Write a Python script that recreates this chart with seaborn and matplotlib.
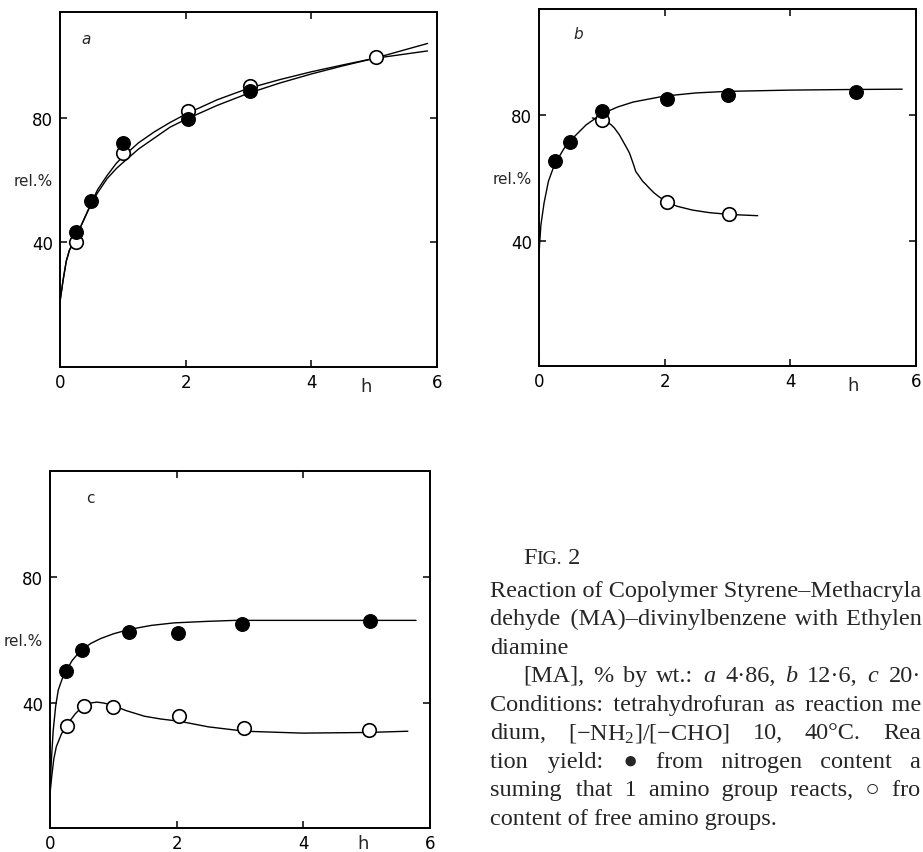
import matplotlib
matplotlib.use("Agg")
import matplotlib.pyplot as plt
import seaborn as sns

sns.set_theme(style="white")
plt.rcParams["font.family"] = ["DejaVu Sans"]
plt.rcParams["mathtext.fontset"] = "custom"
plt.rcParams["mathtext.rm"] = "Liberation Serif"
plt.rcParams["mathtext.it"] = "Liberation Serif:italic"

# ---------------- data ----------------
# panel a
a_full_x = [0.25, 0.5, 1.0, 2.03, 3.03]
a_full_y = [43.2, 53.4, 71.9, 79.6, 88.7]
a_open_x = [0.25, 1.0, 2.03, 3.03, 5.03]
a_open_y = [40.0, 68.7, 82.2, 90.2, 99.6]
a_curve1_x = [0, 0.05, 0.1, 0.15, 0.25, 0.35, 0.5, 0.6, 0.75, 0.9, 1.0, 1.25, 1.5, 1.75, 2.0, 2.5, 3.0, 3.5, 4.0, 4.5, 5.0, 5.85]
a_curve1_y = [21, 28, 34, 37.5, 41.5, 46, 52.5, 56, 60.5, 63.8, 65.6, 70.0, 73.5, 77.0, 79.5, 84.0, 87.9, 91.2, 94.1, 96.7, 99.1, 103.9]
a_curve2_x = [0, 0.05, 0.1, 0.15, 0.25, 0.35, 0.5, 0.6, 0.75, 0.9, 1.0, 1.25, 1.5, 1.75, 2.0, 2.5, 3.0, 3.5, 4.0, 4.5, 5.0, 5.85]
a_curve2_y = [21, 28, 34, 37.5, 41.5, 46, 52.8, 57, 61.5, 65.5, 67.5, 72.0, 75.5, 78.5, 81.2, 85.8, 89.5, 92.3, 94.8, 97.0, 99.1, 101.5]

# panel b
b_full_x = [0.25, 0.5, 1.0, 2.03, 3.0, 5.05]
b_full_y = [65.5, 71.5, 81.5, 85.2, 86.6, 87.5]
b_open_x = [1.0, 2.03, 3.02]
b_open_y = [78.4, 52.3, 48.4]
b_curve1_x = [0, 0.03, 0.08, 0.15, 0.25, 0.4, 0.5, 0.75, 1.0, 1.25, 1.5, 2.0, 2.5, 3.0, 4.0, 5.0, 5.78]
b_curve1_y = [36, 45, 52, 59, 64.5, 69.5, 72.0, 77.0, 80.5, 82.7, 84.3, 86.2, 87.2, 87.7, 88.1, 88.3, 88.4]
b_curve2_x = [0.85, 0.93, 1.0, 1.08, 1.15, 1.2, 1.28, 1.33, 1.4, 1.44, 1.47, 1.5, 1.54, 1.58, 1.65, 1.7, 1.76, 1.83, 1.9, 2.03, 2.2, 2.44, 2.7, 3.02, 3.48]
b_curve2_y = [79.2, 78.9, 78.5, 78.0, 77.0, 76.0, 73.8, 72.0, 69.5, 68.0, 66.3, 64.6, 62.1, 61.0, 59.0, 58.0, 56.7, 55.3, 54.2, 52.3, 51.0, 49.8, 49.0, 48.4, 48.0]

# panel c
c_full_x = [0.25, 0.5, 1.25, 2.02, 3.03, 5.05]
c_full_y = [50.2, 56.7, 62.6, 62.4, 65.1, 66.1]
c_open_x = [0.27, 0.53, 1.0, 2.04, 3.06, 5.04]
c_open_y = [32.7, 39.1, 38.7, 35.7, 31.9, 31.4]
c_curve1_x = [0, 0.02, 0.05, 0.09, 0.13, 0.19, 0.25, 0.35, 0.5, 0.65, 0.8, 1.0, 1.25, 1.6, 1.96, 2.5, 2.92, 4.0, 5.0, 5.78]
c_curve1_y = [12, 21, 31, 39, 44, 47.5, 50, 53.5, 57, 59, 60.5, 62.0, 63.4, 64.7, 65.5, 66.0, 66.3, 66.3, 66.3, 66.3]
c_curve2_x = [0, 0.03, 0.06, 0.1, 0.18, 0.27, 0.4, 0.53, 0.64, 0.74, 0.85, 1.0, 1.2, 1.49, 1.75, 2.04, 2.5, 3.08, 3.98, 5.0, 5.65]
c_curve2_y = [11, 17, 22, 26, 30, 33, 36.5, 39.1, 39.9, 40.2, 39.9, 39.1, 37.5, 35.7, 34.8, 34.1, 32.3, 30.9, 30.3, 30.5, 30.9]

x_ticks = [0, 2, 4, 6]
x_ticklabels = ["0", "2", "4", "6"]
y_ticks = [40, 80]
y_ticklabels = ["40", "80"]
panel_letters = ["a", "b", "c"]
y_label = "rel.%"
x_label = "h"

caption_title = ("F", "IG.", " 2")
caption_lines = [
    "Reaction of Copolymer Styrene–Methacryla",
    "dehyde (MA)–divinylbenzene with Ethylen",
    "diamine",
    r"[MA], % by wt.: $a$ 4·86, $b$ 12·6, $c$ 20·",
    "Conditions: tetrahydrofuran as reaction me",
    r"dium, [$-$NH$_2$]/[$-$CHO] 10, 40°C. Rea",
    "tion yield: ● from nitrogen content a",
    "suming that 1 amino group reacts, ○ fro",
    "content of free amino groups.",
]
caption_justify = [True, True, False, True, True, True, True, True, False]

# ---------------- figure ----------------
W, H = 923, 853
fig = plt.figure(figsize=(W / 100, H / 100), dpi=100)

def px_rect(left, top, right, bottom):
    return [left / W, 1 - bottom / H, (right - left) / W, (bottom - top) / H]

axa = fig.add_axes(px_rect(60, 13, 437, 368))
axb = fig.add_axes(px_rect(539, 10, 916, 367))
axc = fig.add_axes(px_rect(50, 472, 430, 829))

panels = [
    (axa, a_full_x, a_full_y, a_open_x, a_open_y,
     [(a_curve1_x, a_curve1_y), (a_curve2_x, a_curve2_y)], 4.87, -14, (0.41, 105.5), True),
    (axb, b_full_x, b_full_y, b_open_x, b_open_y,
     [(b_curve1_x, b_curve1_y), (b_curve2_x, b_curve2_y)], 5.0, -14, (0.62, 106.3), True),
    (axc, c_full_x, c_full_y, c_open_x, c_open_y,
     [(c_curve1_x, c_curve1_y), (c_curve2_x, c_curve2_y)], 4.94, -11, (0.64, 105.6), False),
]

for (ax, fx, fy, ox, oy, curves, hx, hdy, letter_pos, italic), letter in zip(panels, panel_letters):
    for cx, cy in curves:
        sns.lineplot(x=cx, y=cy, ax=ax, color="black", lw=1.0, sort=False,
                     estimator=None, zorder=2)
    sns.scatterplot(x=fx, y=fy, ax=ax, s=95, color="black", edgecolor="black",
                    linewidth=1.0, zorder=4)
    sns.scatterplot(x=ox, y=oy, ax=ax, s=95, color="white", edgecolor="black",
                    linewidth=1.2, zorder=3)
    ax.set_xlim(0, 6)
    ax.set_ylim(0, 114)
    ax.set_xticks(x_ticks)
    ax.set_xticklabels(x_ticklabels)
    ax.set_yticks(y_ticks)
    ax.set_yticklabels(y_ticklabels)
    ax.tick_params(axis="both", which="major", direction="in", top=True, right=True,
                   bottom=True, left=True, length=5, width=1.1, labelsize=12,
                   colors="black")
    ax.tick_params(axis="x", pad=4)
    ax.tick_params(axis="y", pad=5)
    for sp in ax.spines.values():
        sp.set_visible(True)
        sp.set_color("black")
        sp.set_linewidth(1.4)
    ax.set_xlabel("")
    ax.set_ylabel("")
    ax.set_facecolor("white")
    ax.annotate(y_label, xy=(0, 60), xycoords=("axes fraction", "data"),
                xytext=(-5, 0), textcoords="offset points", ha="right", va="center",
                fontsize=11)
    ax.annotate(x_label, xy=(hx, 0), xycoords="data", xytext=(0, hdy),
                textcoords="offset points", ha="center", va="center", fontsize=13,
                annotation_clip=False)
    ax.text(letter_pos[0], letter_pos[1], letter, fontsize=11,
            style="italic" if italic else "normal", ha="center", va="center")

# ---------------- caption ----------------
serif = ["Liberation Serif", "DejaVu Sans"]
renderer = fig.canvas.get_renderer()
base_title = 1 - 564 / H
t = fig.text(523 / W, base_title, caption_title[0], fontsize=17.5, family=serif,
             ha="left", va="baseline")
bb = t.get_window_extent(renderer)
t2 = fig.text(bb.x1 / W, base_title, caption_title[1], fontsize=14, family=serif,
              ha="left", va="baseline")
bb2 = t2.get_window_extent(renderer)
fig.text(bb2.x1 / W, base_title, caption_title[2], fontsize=17.5, family=serif,
         ha="left", va="baseline")

line_y0 = 597
line_dy = 28.5
fs = 17.5
right_px = 921
HS = "\u200a"

def width_of(s):
    tt = fig.text(0, 0, s, fontsize=fs, family=serif)
    w = tt.get_window_extent(renderer).width
    tt.remove()
    return w

hair_w = (width_of("x" + HS * 20 + "x") - width_of("xx")) / 20.0

for i, (line, just) in enumerate(zip(caption_lines, caption_justify)):
    xl = 523 if i == 3 else 490
    yb = 1 - (line_y0 + i * line_dy) / H
    if not just:
        fig.text(xl / W, yb, line, fontsize=fs, family=serif, ha="left",
                 va="baseline")
        continue
    words = line.split(" ")
    if "$" in line:
        arts = [fig.text(0, yb, w, fontsize=fs, family=serif, ha="left",
                         va="baseline") for w in words]
        widths = [a.get_window_extent(renderer).width for a in arts]
        gap = (right_px - xl - sum(widths)) / max(len(words) - 1, 1)
        x = xl
        for a, wdt in zip(arts, widths):
            a.set_x(x / W)
            x += wdt + gap
    else:
        natural = width_of(line)
        extra = max(right_px - xl - natural, 0)
        ngaps = len(words) - 1
        total_hs = int(round(extra / hair_w)) if hair_w > 0 else 0
        per, rem = divmod(total_hs, ngaps)
        s = words[0]
        for k, w in enumerate(words[1:]):
            s += " " + HS * (per + (1 if k < rem else 0)) + w
        fig.text(xl / W, yb, s, fontsize=fs, family=serif, ha="left",
                 va="baseline")

fig.savefig("out.png", dpi=100, facecolor="white")
